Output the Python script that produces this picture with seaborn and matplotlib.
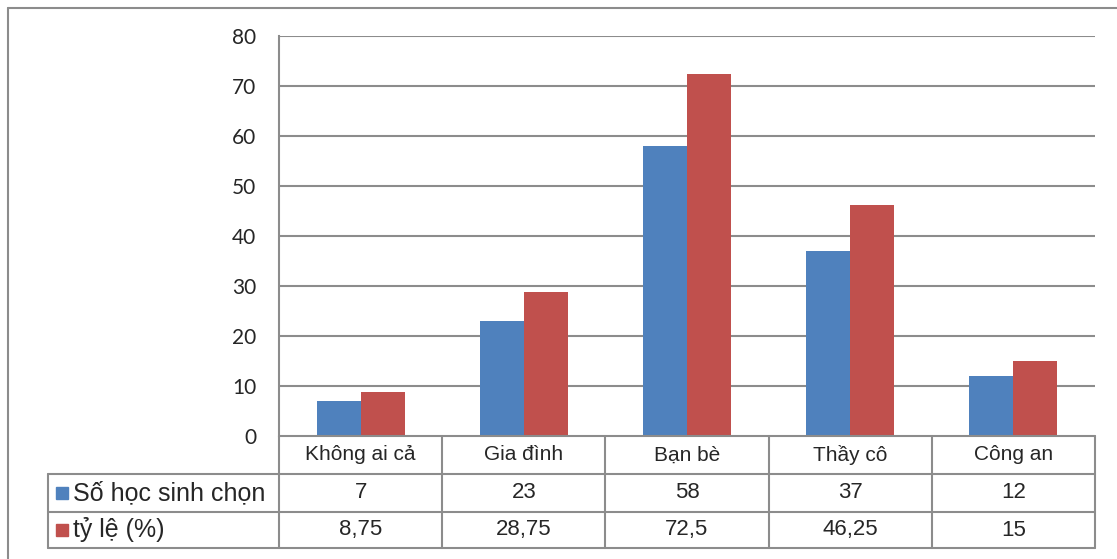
import pandas as pd
import matplotlib.pyplot as plt
from matplotlib.lines import Line2D
from matplotlib.patches import Rectangle
import seaborn as sns

categories = ["Không ai cả", "Gia đình", "Bạn bè", "Thầy cô", "Công an"]
series_names = ["Số học sinh chọn", "tỷ lệ (%)"]
so_hoc_sinh = [7, 23, 58, 37, 12]
ty_le = [8.75, 28.75, 72.5, 46.25, 15]
y_ticks = [0, 10, 20, 30, 40, 50, 60, 70, 80]
colors = ["#4F81BD", "#C0504D"]

df = pd.DataFrame({
    "cat": categories * 2,
    "series": [series_names[0]] * 5 + [series_names[1]] * 5,
    "value": so_hoc_sinh + ty_le,
})

sns.set_style("white")
plt.rcParams['font.family'] = ['Liberation Sans', 'DejaVu Sans']

W, H = 1117, 559
fig = plt.figure(figsize=(W / 100, H / 100), dpi=100)
ax = fig.add_axes([279 / W, 1 - 436 / H, 816 / W, 400 / H])

sns.barplot(data=df, x="cat", y="value", hue="series", palette=colors,
            width=0.54, gap=0, linewidth=0, saturation=1, legend=False, ax=ax)

grid_c = "#8C8C8C"
ax.set_ylim(0, 80)
ax.set_xlim(-0.5, 4.5)
ax.set_yticks(y_ticks)
ax.set_yticklabels([str(t) for t in y_ticks], fontsize=15, family=['Lato', 'DejaVu Sans'])
ax.tick_params(axis='y', length=0, pad=16.5)
ax.set_xticks([])
ax.set_xlabel("")
ax.set_ylabel("")
for t in y_ticks[1:]:
    ax.axhline(t, color=grid_c, lw=1.5, zorder=0)
ax.set_axisbelow(True)
for s in ["top", "right", "bottom"]:
    ax.spines[s].set_visible(False)
ax.spines["left"].set_color(grid_c)
ax.spines["left"].set_linewidth(1.5)

# data table below the axes (axes coords)
tc = "#8C8C8C"
x0 = (48 - 279) / 816
rows = [0, -38 / 400, -76 / 400, -112 / 400]
kw = dict(transform=ax.transAxes, color=tc, lw=1.5, clip_on=False)
ax.add_line(Line2D([0, 1], [rows[0]] * 2, **kw))
for r in rows[1:]:
    ax.add_line(Line2D([x0, 1], [r] * 2, **kw))
ax.add_line(Line2D([x0, x0], [rows[1], rows[3]], **kw))
for i in range(6):
    ax.add_line(Line2D([i / 5, i / 5], [rows[0], rows[3]], **kw))

for i, c in enumerate(categories):
    ax.text((i + 0.5) / 5, (rows[0] + rows[1]) / 2, c, transform=ax.transAxes,
            ha="center", va="center", fontsize=15)
table_vals = [so_hoc_sinh, ty_le]
for k in range(2):
    ymid = (rows[k + 1] + rows[k + 2]) / 2
    for i, v in enumerate(table_vals[k]):
        txt = f"{v:g}".replace(".", ",")
        ax.text((i + 0.5) / 5, ymid, txt, transform=ax.transAxes,
                ha="center", va="center", fontsize=16)
    cy = 436 - ymid * 400
    ax.add_patch(Rectangle((56 / W, 1 - (cy + 6) / H), 12 / W, 12 / H,
                           transform=fig.transFigure, color=colors[k], clip_on=False))
    ax.text((73 - 279) / 816, ymid, series_names[k], transform=ax.transAxes,
            ha="left", va="center", fontsize=18)

# outer chart border
fig.add_artist(Line2D([8 / W, 1], [1 - 8 / H] * 2, transform=fig.transFigure, color=tc, lw=1.5))
fig.add_artist(Line2D([8 / W, 8 / W], [0, 1 - 8 / H], transform=fig.transFigure, color=tc, lw=1.5))

fig.savefig("out.png", dpi=100)
